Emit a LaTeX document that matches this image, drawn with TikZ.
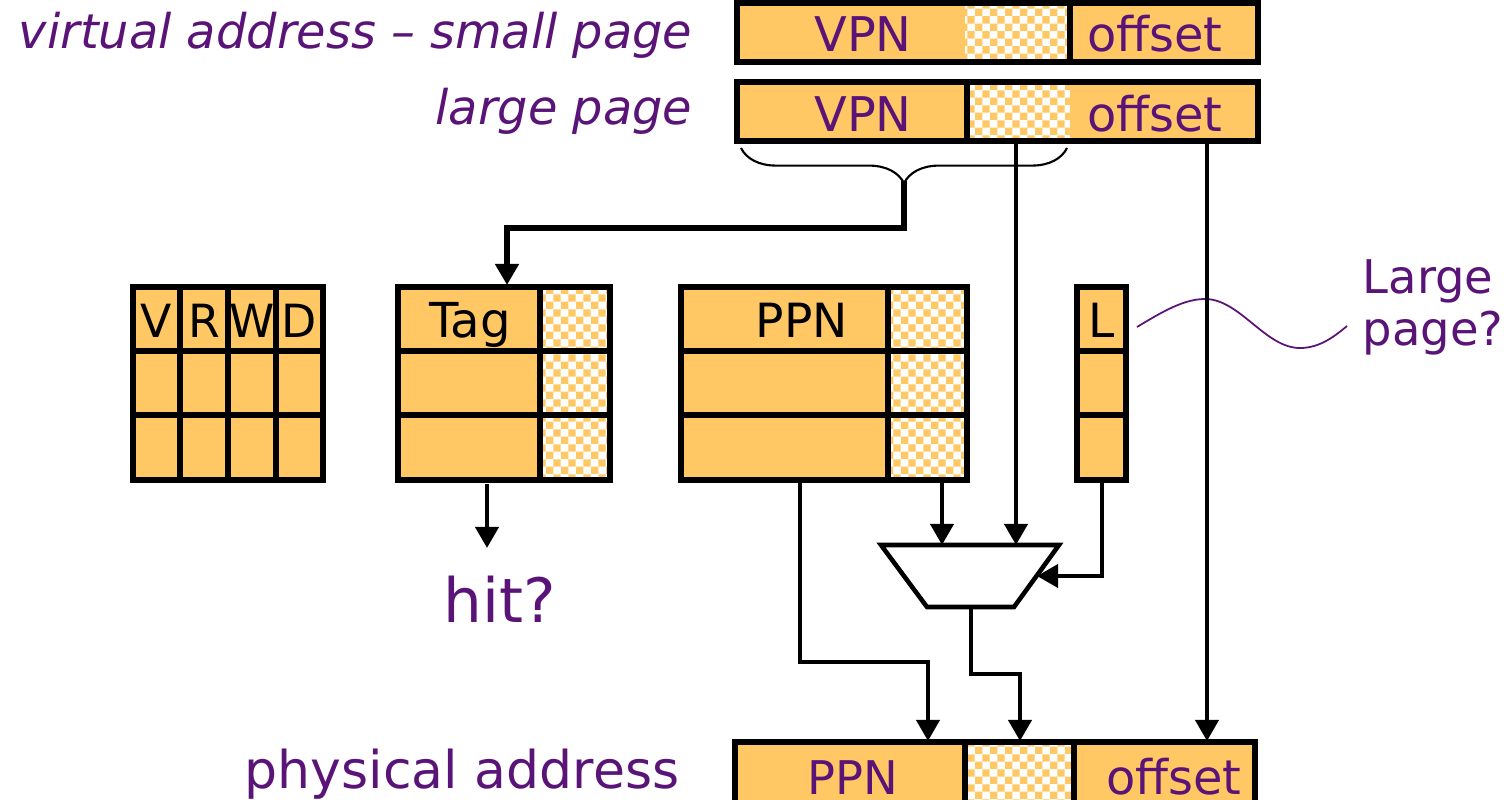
\documentclass[tikz,border=0pt]{standalone}
\usepackage{fontspec}
\setmainfont{DejaVu Sans}[ItalicFont={DejaVu Sans Oblique}]
\usetikzlibrary{arrows.meta,patterns.meta,decorations.pathreplacing}
\definecolor{boxorange}{RGB}{255,200,100}
\definecolor{labelpurple}{RGB}{90,20,120}
\tikzdeclarepattern{name=finecheck, type=uncolored,
  bottom left={(0pt,0pt)}, top right={(4.2pt,4.2pt)}, tile size={(4.2pt,4.2pt)},
  code={\fill (0pt,0pt) rectangle (2.12pt,2.12pt); \fill (2.1pt,2.1pt) rectangle (4.22pt,4.22pt);}}
\tikzset{field/.style={fill=boxorange},
bits/.style={preaction={fill=white}, pattern=finecheck, pattern color=boxorange},
border/.style={draw=black, line width=1.45pt},
wire/.style={draw=black, line width=1.3pt},
wirearrow/.style={wire, -{Triangle[length=6pt,width=6.5pt]}},
%purple labels, black table headers
ptxt/.style={text=labelpurple, font=\fontsize{13.6}{16}\selectfont, inner sep=0pt, anchor=base},
btxt/.style={text=black, font=\fontsize{13.4}{16}\selectfont, inner sep=0pt, anchor=base}}

\begin{document}
\begin{tikzpicture}[x=0.01cm,y=-0.01cm]
\useasboundingbox (0,0) rectangle (1508,799);

% virtual address, small page
\fill[field] (737,3) rectangle (1258,62);
\fill[bits] (965,6) rectangle (1068,59);
\draw[border] (1070,3) -- (1070,62);
\draw[border] (737,3) rectangle (1258,62);
\node[ptxt] (vpnS) at (863,51) {VPN};
\node[ptxt] (offS) at (1155,51) {offset};
\node[ptxt, anchor=base east] (vaLabel) at (693,48) {\itshape virtual address -- small page};

% virtual address, large page
\fill[field] (737,82) rectangle (1258,141);
\fill[bits] (969,85) rectangle (1070,138);
\draw[border] (967,82) -- (967,141);
\draw[border] (737,82) rectangle (1258,141);
\node[ptxt] (vpnL) at (863,131) {VPN};
\node[ptxt] (offL) at (1155,131) {offset};
\node[ptxt, anchor=base east] (lpLabel) at (693,124) {\itshape large page};

\draw[line width=0.6pt, decorate, decoration={brace, mirror, amplitude=10pt}] (741,148) -- (1067,148);

\coordinate (brtip) at (904,181);
\coordinate (tagin) at (507,285);
\coordinate (vaBits) at (1016,143);
\coordinate (vaOff) at (1207,143);

% V R W D flags
\fill[field] (133,287) rectangle (323,480);
\foreach \x in {180,228,276}
    \draw[border] (\x,287) -- (\x,480);
\foreach \y in {351,415}
    \draw[border] (133,\y) -- (323,\y);
\draw[border] (133,287) rectangle (323,480);
\foreach \t/\x in {V/156,R/204,W/252,D/299}
    \node[btxt, font=\fontsize{13}{16}\selectfont] (flag\t) at (\x,337) {\t};

% tag
\fill[field] (398,287) rectangle (540,480);
\fill[bits] (540,287) rectangle (610,480);
\draw[border] (540,287) -- (540,480);
\foreach \y in {351,415}
    \draw[border] (398,\y) -- (610,\y);
\draw[border] (398,287) rectangle (610,480);
\node[btxt, font=\fontsize{13.7}{16}\selectfont] (tag) at (470,337) {Tag};

% PPN
\fill[field] (681,287) rectangle (888,480);
\fill[bits] (888,287) rectangle (967,480);
\draw[border] (888,287) -- (888,480);
\foreach \y in {351,415}
    \draw[border] (681,\y) -- (967,\y);
\draw[border] (681,287) rectangle (967,480);
\node[btxt] (ppn) at (802,337) {PPN};

% L
\fill[field] (1077,287) rectangle (1126,480);
\foreach \y in {351,415}
    \draw[border] (1077,\y) -- (1126,\y);
\draw[border] (1077,287) rectangle (1126,480);
\node[btxt] (lbit) at (1102,337) {L};

\node[ptxt, anchor=base west, font=\fontsize{13.2}{16}\selectfont] (lg1) at (1362,293) {Large};
\node[ptxt, anchor=base west, font=\fontsize{13.2}{16}\selectfont] (lg2) at (1362,345) {page?};
\draw[labelpurple, line width=0.5pt] (1137,327) .. controls (1165,310) and (1185,299) .. (1205,299)
    .. controls (1240,299) and (1265,348) .. (1300,348) .. controls (1320,348) and (1335,336) .. (1347,326);

% hit
\coordinate (tagout) at (487,484);
\coordinate (hitin) at (487,548);
\node[ptxt, font=\fontsize{17.4}{20}\selectfont] (hit) at (500,622) {hit?};

% mux
\coordinate (muxA) at (942,545);
\coordinate (muxB) at (1016,545);
\coordinate (muxS) at (1037,576);
\coordinate (muxOut) at (971,607);
\draw[wire, fill=white] (881,545) -- (1059,545) -- (1014,607) -- (927,607) -- cycle;

\coordinate (ppnBits) at (942,482);
\coordinate (ppnOut) at (800,482);
\coordinate (lOut) at (1102,482);

% physical address
\fill[field] (735,742) rectangle (1255,806);
\fill[bits] (967,745) rectangle (1072,806);
\draw[border] (965,742) -- (965,806);
\draw[border] (1074,742) -- (1074,806);
\draw[border] (735,742) rectangle (1255,806);
\node[ptxt, font=\fontsize{13.2}{16}\selectfont] (ppnP) at (853,794) {PPN};
\node[ptxt] (offP) at (1174,794) {offset};
\node[ptxt, anchor=base east, font=\fontsize{14.8}{18}\selectfont] (paLabel) at (680,788) {physical address};
\coordinate (paPPN) at (928,741);
\coordinate (paBits) at (1020,741);
\coordinate (paOff) at (1207,741);

% connectors
\draw[wirearrow, line width=1.6pt] (brtip) -- ++(0,47) -| (tagin);
\draw[wirearrow] (vaBits) -- (muxB);
\draw[wirearrow] (vaOff) -- (paOff);
\draw[wirearrow] (ppnBits) -- (muxA);
\draw[wirearrow] (lOut) |- (muxS);
\draw[wirearrow] (tagout) -- (hitin);
\draw[wirearrow] (ppnOut) -- ++(0,180) -| (paPPN);
\draw[wirearrow] (muxOut) -- ++(0,67) -| (paBits);

\end{tikzpicture}
\end{document}
